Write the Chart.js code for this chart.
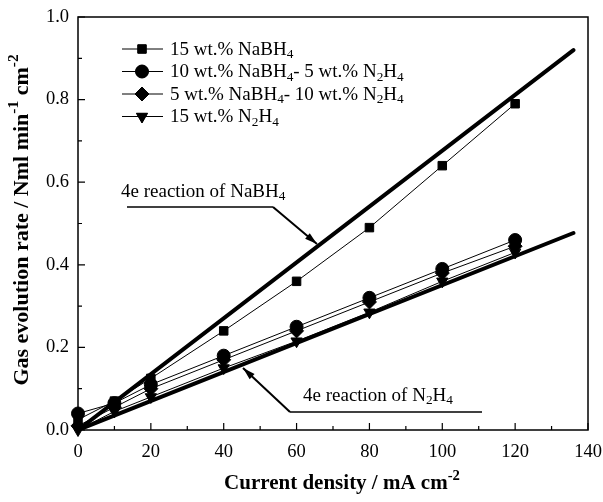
<!DOCTYPE html>
<html>
<head>
<meta charset="utf-8">
<script src="https://cdn.jsdelivr.net/npm/chart.js@4.4.0/dist/chart.umd.min.js"></script>
<style>
  body { margin: 0; background: #fff; }
</style>
</head>
<body>
<canvas id="chart" width="603" height="502"></canvas>
<script>
// Data
const currents = [0, 10, 20, 40, 60, 80, 100, 120];
const nabh4_15 = [0.025, 0.07, 0.125, 0.24, 0.36, 0.49, 0.64, 0.79];
const mix_10_5 = [0.04, 0.065, 0.11, 0.18, 0.25, 0.32, 0.39, 0.46];
const mix_5_10 = [0.01, 0.055, 0.10, 0.17, 0.24, 0.31, 0.38, 0.445];
const n2h4_15 = [0.0, 0.045, 0.08, 0.15, 0.215, 0.285, 0.36, 0.43];

// theoretical 4e lines
const theoryX = [0, 136];
const theoryNaBH4 = [0, 0.92];
const theoryN2H4 = [0, 0.477];

const xTicks = [0, 20, 40, 60, 80, 100, 120, 140];
const yTicks = [0.0, 0.2, 0.4, 0.6, 0.8, 1.0];

const SERIF = '"Liberation Serif", "Times New Roman", serif';

function pts(xs, ys) {
    return xs.map((x, i) => ({ x: x, y: ys[i] }));
}

function seriesSet(label, ys, style, rot, r) {
    return {
        label: label,
        data: pts(currents, ys),
        borderColor: '#000',
        backgroundColor: '#000',
        borderWidth: 1,
        pointStyle: style,
        rotation: rot,
        pointRadius: r,
        pointBorderWidth: 1,
        clip: false
    };
}

// draw text with sub/superscripts; parts = [[text, 'n'|'sub'|'sup'], ...]
function drawRich(ctx, parts, x, y, size, bold) {
    const w = bold ? 'bold ' : '';
    let cx = x;
    parts.forEach(p => {
        let s = size, dy = 0;
        if (p[1] === 'sub') { s = size * 0.7; dy = size * 0.25; }
        if (p[1] === 'sup') { s = size * 0.7; dy = -size * 0.38; }
        ctx.font = w + s + 'px ' + SERIF;
        ctx.fillText(p[0], cx, y + dy);
        cx += ctx.measureText(p[0]).width;
    });
    return cx - x;
}

function richWidth(ctx, parts, size, bold) {
    const w = bold ? 'bold ' : '';
    let total = 0;
    parts.forEach(p => {
        const s = p[1] === 'n' ? size : size * 0.7;
        ctx.font = w + s + 'px ' + SERIF;
        total += ctx.measureText(p[0]).width;
    });
    return total;
}

function arrow(ctx, x1, y1, x2, y2) {
    ctx.beginPath();
    ctx.moveTo(x1, y1);
    ctx.lineTo(x2, y2);
    ctx.stroke();
    const a = Math.atan2(y2 - y1, x2 - x1);
    const len = 13, half = 0.28;
    ctx.beginPath();
    ctx.moveTo(x2, y2);
    ctx.lineTo(x2 - len * Math.cos(a - half), y2 - len * Math.sin(a - half));
    ctx.lineTo(x2 - len * Math.cos(a + half), y2 - len * Math.sin(a + half));
    ctx.closePath();
    ctx.fill();
}

const legendItems = [
    { style: 'rect', rot: 0, r: 6, parts: [['15 wt.% NaBH', 'n'], ['4', 'sub']] },
    { style: 'circle', rot: 0, r: 6.5, parts: [['10 wt.% NaBH', 'n'], ['4', 'sub'], ['- 5 wt.% N', 'n'], ['2', 'sub'], ['H', 'n'], ['4', 'sub']] },
    { style: 'rectRot', rot: 0, r: 7, parts: [['5 wt.% NaBH', 'n'], ['4', 'sub'], ['- 10 wt.% N', 'n'], ['2', 'sub'], ['H', 'n'], ['4', 'sub']] },
    { style: 'triangle', rot: 180, r: 6.5, parts: [['15 wt.% N', 'n'], ['2', 'sub'], ['H', 'n'], ['4', 'sub']] }
];

const decor = {
    id: 'decor',
    afterDraw(chart) {
        const ctx = chart.ctx;
        const a = chart.chartArea;
        const xs = chart.scales.x, ys = chart.scales.y;
        ctx.save();
        ctx.strokeStyle = '#000';
        ctx.fillStyle = '#000';

        // frame
        ctx.lineWidth = 1.5;
        ctx.strokeRect(a.left, a.top, a.right - a.left, a.bottom - a.top);

        // inward ticks on bottom and left
        ctx.lineWidth = 1.2;
        ctx.beginPath();
        for (let v = 0; v <= 140; v += 10) {
            const px = xs.getPixelForValue(v);
            const len = v % 20 === 0 ? 7 : 4;
            ctx.moveTo(px, a.bottom);
            ctx.lineTo(px, a.bottom - len);
        }
        for (let i = 0; i <= 10; i++) {
            const py = ys.getPixelForValue(i / 10);
            const len = i % 2 === 0 ? 7 : 4;
            ctx.moveTo(a.left, py);
            ctx.lineTo(a.left + len, py);
        }
        ctx.stroke();

        // tick labels
        ctx.font = '18.5px ' + SERIF;
        ctx.textBaseline = 'middle';
        ctx.textAlign = 'center';
        xTicks.forEach(v => ctx.fillText(String(v), xs.getPixelForValue(v), a.bottom + 22));
        ctx.textAlign = 'right';
        yTicks.forEach(v => ctx.fillText(v.toFixed(1), a.left - 9, ys.getPixelForValue(v)));
        ctx.textAlign = 'left';

        // axis titles
        const xt = [['Current density / mA cm', 'n'], ['-2', 'sup']];
        const xw = richWidth(ctx, xt, 21, true);
        drawRich(ctx, xt, 342 - xw / 2, 484, 21, true);

        const yt = [['Gas evolution rate / Nml min', 'n'], ['-1', 'sup'], [' cm', 'n'], ['-2', 'sup']];
        const yw = richWidth(ctx, yt, 22, true);
        ctx.save();
        ctx.translate(22, 220);
        ctx.rotate(-Math.PI / 2);
        drawRich(ctx, yt, -yw / 2, 0, 22, true);
        ctx.restore();

        // legend
        legendItems.forEach((it, i) => {
            const y = 49 + i * 22.5;
            ctx.lineWidth = 1;
            ctx.beginPath();
            ctx.moveTo(122, y);
            ctx.lineTo(163, y);
            ctx.stroke();
            Chart.helpers.drawPoint(ctx, { pointStyle: it.style, rotation: it.rot, radius: it.r, borderWidth: 1 }, 142, y);
            ctx.fill();
            drawRich(ctx, it.parts, 170, y + 1, 19, false);
        });

        // annotations
        drawRich(ctx, [['4e reaction of NaBH', 'n'], ['4', 'sub']], 121, 192, 19, false);
        ctx.lineWidth = 1.5;
        ctx.beginPath();
        ctx.moveTo(127, 207);
        ctx.lineTo(273, 207);
        ctx.stroke();
        ctx.lineWidth = 2;
        arrow(ctx, 273, 207, 317, 244);

        drawRich(ctx, [['4e reaction of N', 'n'], ['2', 'sub'], ['H', 'n'], ['4', 'sub']], 303, 396, 19, false);
        ctx.lineWidth = 1.5;
        ctx.beginPath();
        ctx.moveTo(290, 412);
        ctx.lineTo(482, 412);
        ctx.stroke();
        ctx.lineWidth = 2;
        arrow(ctx, 290, 412, 243, 368);

        ctx.restore();
    }
};

const ctx = document.getElementById('chart').getContext('2d');
const chart = new Chart(ctx, {
    type: 'line',
    data: {
        datasets: [
            { label: '4e NaBH4', data: pts(theoryX, theoryNaBH4), borderColor: '#000', borderWidth: 4, pointRadius: 0, borderCapStyle: 'round' },
            { label: '4e N2H4', data: pts(theoryX, theoryN2H4), borderColor: '#000', borderWidth: 4, pointRadius: 0, borderCapStyle: 'round' },
            seriesSet('15 wt.% NaBH4', nabh4_15, 'rect', 0, 6),
            seriesSet('10 wt.% NaBH4- 5 wt.% N2H4', mix_10_5, 'circle', 0, 6.5),
            seriesSet('5 wt.% NaBH4- 10 wt.% N2H4', mix_5_10, 'rectRot', 0, 7),
            seriesSet('15 wt.% N2H4', n2h4_15, 'triangle', 180, 6.5)
        ]
    },
    options: {
        responsive: false,
        animation: false,
        layout: { padding: { left: 0, top: 17, right: 15, bottom: 0 } },
        plugins: { legend: { display: false }, tooltip: { enabled: false } },
        scales: {
            x: {
                type: 'linear',
                min: 0, max: 140,
                afterFit: s => { s.height = 72; },
                grid: { display: false },
                border: { display: false },
                ticks: { display: false }
            },
            y: {
                min: 0, max: 1,
                afterFit: s => { s.width = 78; },
                grid: { display: false },
                border: { display: false },
                ticks: { display: false }
            }
        }
    },
    plugins: [decor]
});
</script>
</body>
</html>
